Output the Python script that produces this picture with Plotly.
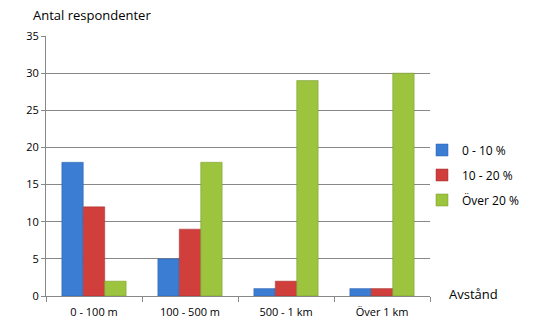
import plotly.graph_objects as go

categories = ["0 - 100 m", "100 - 500 m", "500 - 1 km", "Över 1 km"]
series_names = ["0 - 10 %", "10 - 20 %", "Över 20 %"]
low = [18, 5, 1, 1]
mid = [12, 9, 2, 1]
high = [2, 18, 29, 30]
colors = ["#3b7dd3", "#d03f3c", "#9cc43e"]
lines = ["#2a5ea8", "#a32f2c", "#76972c"]

fig = go.Figure()
for i, (name, vals, c, lc) in enumerate(zip(series_names, [low, mid, high], colors, lines)):
    fig.add_trace(go.Bar(x=categories, y=vals, name=name, legendgroup=f"g{i}",
                         marker=dict(color=c, line=dict(color=lc, width=0.5))))

font = "Open Sans, DejaVu Sans, sans-serif"
fig.update_layout(
    width=542, height=328,
    margin=dict(l=46, r=112, t=36, b=32, autoexpand=False),
    paper_bgcolor="white", plot_bgcolor="white",
    barmode="group", bargap=0.33, bargroupgap=0,
    font=dict(family=font, size=11, color="#000"),
    showlegend=True,
    legend=dict(xref="container", yref="container", x=422/542, y=1 - 175/328,
                xanchor="left", yanchor="middle",
                font=dict(size=12), itemwidth=30, tracegroupgap=6,
                bgcolor="rgba(0,0,0,0)"),
    xaxis=dict(showline=True, linecolor="#888", linewidth=1,
               ticks="outside", tickson="boundaries", ticklen=5, tickcolor="#888",
               tickfont=dict(size=11), showgrid=False, ticklabelstandoff=6),
    yaxis=dict(range=[0, 35], dtick=5, showline=True, linecolor="#888", linewidth=1,
               showgrid=True, gridcolor="#888", gridwidth=1,
               ticks="outside", ticklen=4, tickcolor="#888",
               tickfont=dict(size=11), zeroline=False),
    annotations=[
        dict(text="Antal respondenter", xref="paper", yref="paper", x=-0.04, y=1.0,
             yshift=10, xanchor="left", yanchor="bottom", showarrow=False,
             font=dict(size=13)),
        dict(text="Avstånd", xref="paper", yref="paper", x=1.045, y=0,
             xanchor="left", yanchor="middle", yshift=2, showarrow=False,
             font=dict(size=13)),
    ],
)
fig.write_html("out.html")
